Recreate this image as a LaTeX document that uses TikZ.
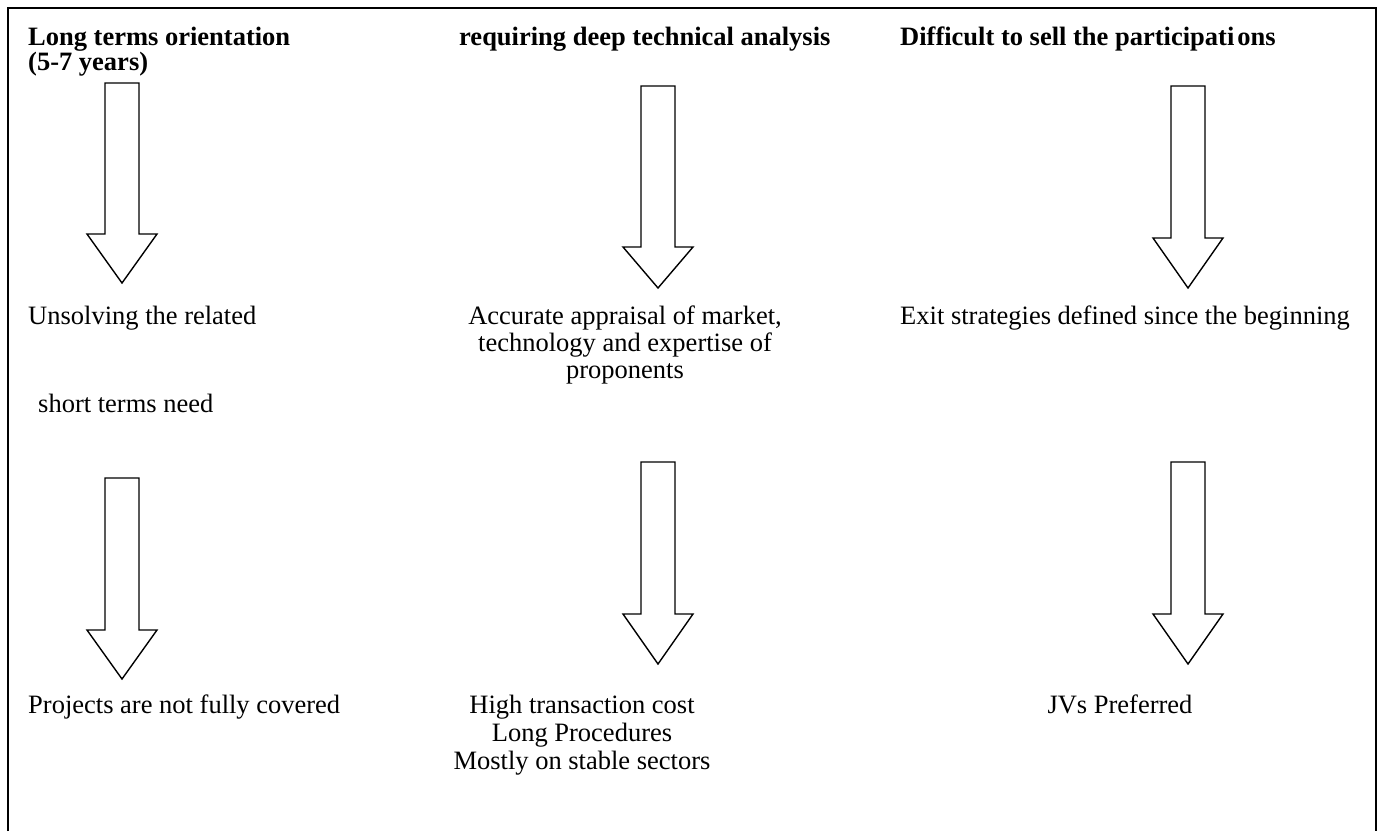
\documentclass[tikz,border=0pt]{standalone}
\usepackage{fontspec}
\setmainfont{Liberation Serif}
\begin{document}
\begin{tikzpicture}[x=1pt,y=-1pt,
  txt/.style={inner sep=0pt, font=\fontsize{26.5}{27}\selectfont},
  hd/.style={inner sep=0pt, font=\fontsize{26.5}{27}\selectfont\bfseries},
  frame/.style={draw=black, line width=2pt},
  blockarrow/.style={draw=black, line width=1.4pt, fill=white, line join=miter}]

% page extent
\useasboundingbox (0,0) rectangle (1379,831);

% open frame (its lower edge runs past the picture)
\draw[frame] (7.5,831) -- (7.5,8) -- (1376,8) -- (1376,831);

% block arrow: centre x, top of shaft, start of head, tip
\newcommand{\blockarrowat}[5]{%
  \draw[blockarrow] (#2-17,#3) -- (#2+17,#3) -- (#2+17,#4) -- (#2+35,#4)
    -- (#2,#5) -- (#2-35,#4) -- (#2-17,#4) -- cycle;
  \coordinate (#1) at (#2,#5);}

% column headings
\node[hd, anchor=base west] (h1a) at (28,45) {Long terms orientation};
\node[hd, anchor=base west] (h1b) at (28,70) {(5-7 years)};
\node[hd, anchor=base west] (h2) at (459,45) {requiring deep technical analysis};
\node[hd, anchor=base west] (h3) at (900,45) {Difficult to sell the participati\kern3pt ons};

% first row of arrows
\blockarrowat{a1}{122}{83}{234}{283}
\blockarrowat{a2}{658}{86}{247}{288}
\blockarrowat{a3}{1188}{86}{238}{288}

% first row of consequences
\node[txt, anchor=base west] (t1a) at (28,324) {Unsolving the related};
\node[txt, anchor=base west] (t1b) at (38,412) {short terms need};
\node[txt, anchor=base] (t2a) at (625,324) {Accurate appraisal of market,};
\node[txt, anchor=base] (t2b) at (625,351) {technology and expertise of};
\node[txt, anchor=base] (t2c) at (625,378) {proponents};
\node[txt, anchor=base west] (t3) at (900,324) {Exit strategies defined since the beginning};

% second row of arrows
\blockarrowat{a4}{122}{478}{630}{679}
\blockarrowat{a5}{658}{462}{614}{664}
\blockarrowat{a6}{1188}{462}{614}{664}

% second row of consequences
\node[txt, anchor=base west] (b1) at (28,713) {Projects are not fully covered};
\node[txt, anchor=base] (b2a) at (582,713) {High transaction cost};
\node[txt, anchor=base] (b2b) at (582,741) {Long Procedures};
\node[txt, anchor=base] (b2c) at (582,769) {Mostly on stable sectors};
\node[txt, anchor=base] (b3) at (1120,713) {JVs Preferred};

\end{tikzpicture}
\end{document}
